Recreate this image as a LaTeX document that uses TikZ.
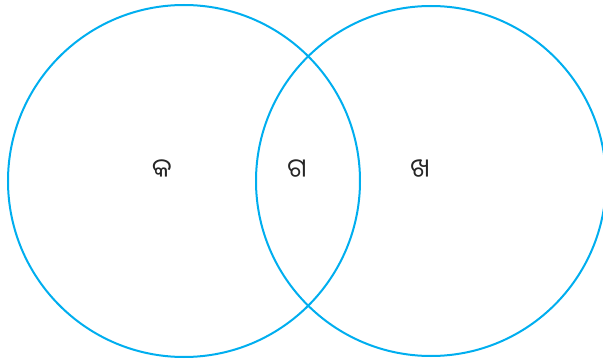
\documentclass[tikz,border=0pt]{standalone}
\usepackage{fontspec}
\newfontfamily\oriya[Script=Oriya]{Noto Sans Oriya UI}
\definecolor{vcyan}{RGB}{0,174,239}
\begin{document}
\begin{tikzpicture}[x=1pt,y=-1pt,
  ring/.style={draw=vcyan,line width=2pt},
  lbl/.style={font=\oriya\fontsize{26}{30}\selectfont,text=black!85,inner sep=0pt}]
\useasboundingbox (0,0) rectangle (603,361);
\draw[ring] (184,181) circle[radius=176] coordinate (c1);
\draw[ring] (431,181) circle[radius=175] coordinate (c2);
\node[lbl] (ka) at (162,170) {କ};
\node[lbl] (ga) at (297,170) {ଗ};
\node[lbl] (kha) at (420,170) {ଖ};
\end{tikzpicture}
\end{document}
